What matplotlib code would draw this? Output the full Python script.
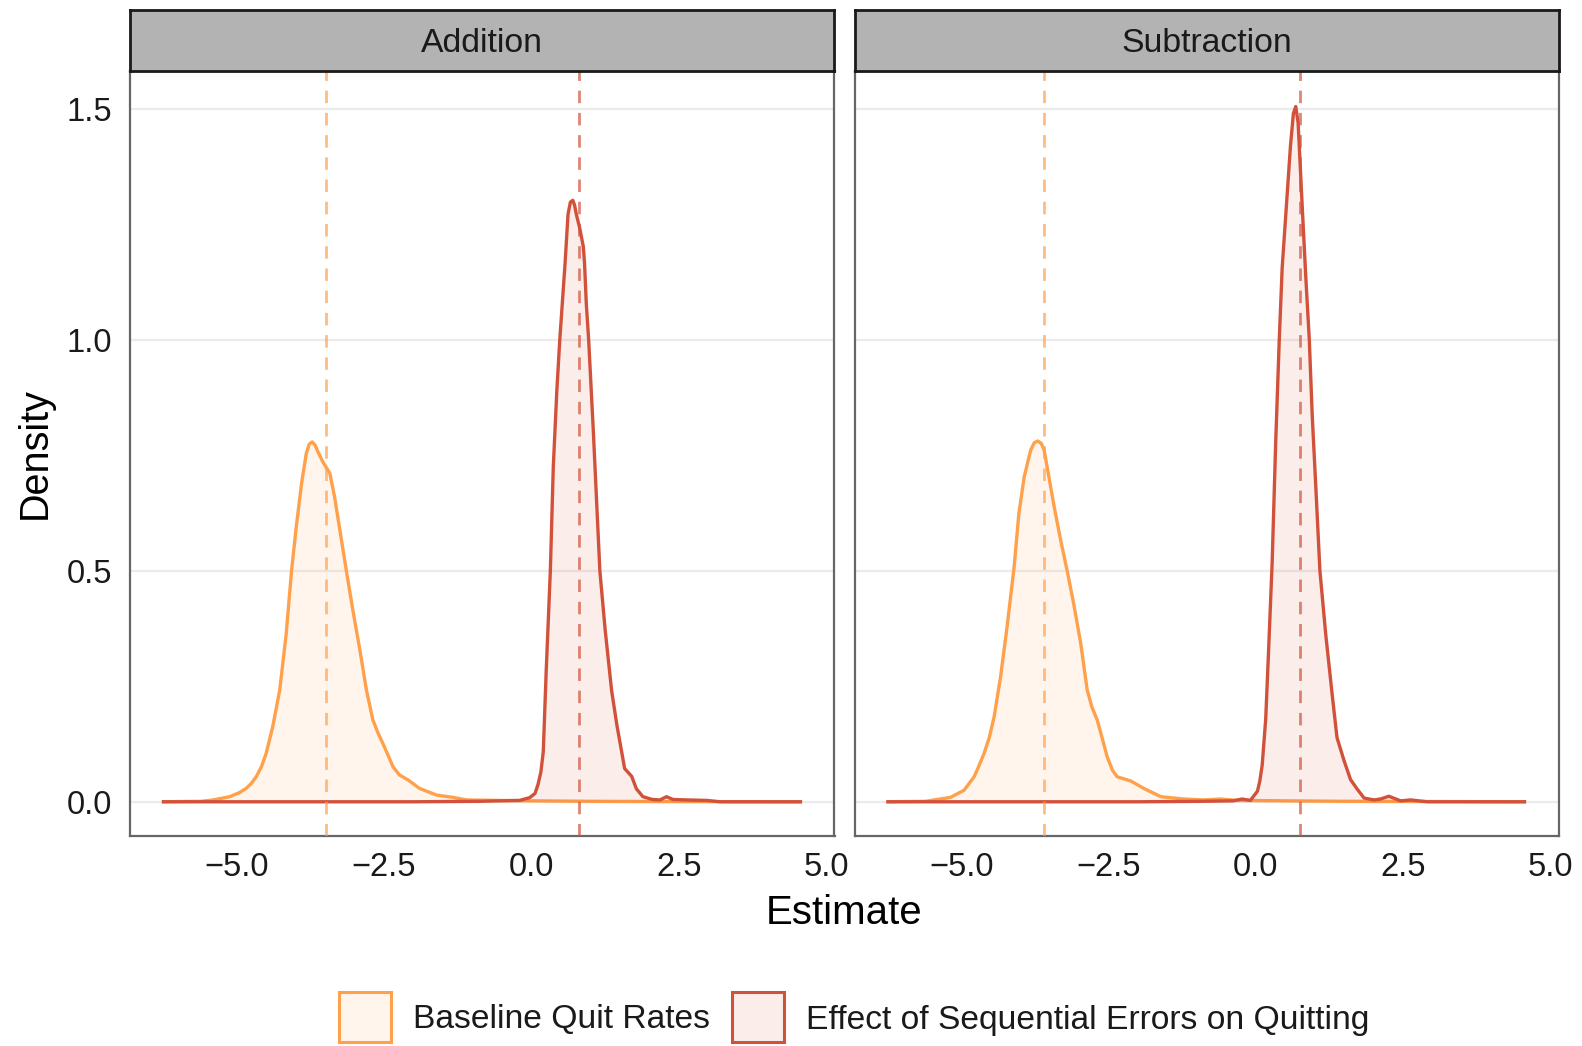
import matplotlib
matplotlib.use("Agg")
import matplotlib.pyplot as plt
from matplotlib.patches import Rectangle

# ---------------- data ----------------
facets = ["Addition", "Subtraction"]
series_labels = ["Baseline Quit Rates", "Effect of Sequential Errors on Quitting"]

add_base_x = [-6.27, -5.60, -5.40, -5.12, -4.95, -4.84, -4.75, -4.67, -4.58, -4.50, -4.39, -4.27,
              -4.16, -4.07, -3.99, -3.90, -3.82, -3.77, -3.72, -3.67, -3.62, -3.54, -3.42, -3.34,
              -3.25, -3.14, -3.03, -2.91, -2.80, -2.69, -2.60, -2.52, -2.43, -2.35, -2.24, -2.09,
              -1.90, -1.61, -1.33, -1.10, -0.59, 0.0, 1.0, 2.0, 4.59]
add_base_y = [0.0, 0.001, 0.004, 0.011, 0.020, 0.029, 0.040, 0.054, 0.076, 0.105, 0.162, 0.242,
              0.364, 0.5, 0.595, 0.689, 0.754, 0.774, 0.779, 0.772, 0.757, 0.736, 0.711, 0.660,
              0.588, 0.5, 0.415, 0.328, 0.242, 0.177, 0.148, 0.126, 0.100, 0.076, 0.058, 0.047,
              0.029, 0.0145, 0.0095, 0.004, 0.003, 0.002, 0.001, 0.0005, 0.0]

add_eff_x = [-6.27, -2.0, -0.88, -0.20, -0.03, 0.06, 0.11, 0.16, 0.20, 0.25, 0.32, 0.37, 0.43,
             0.48, 0.57, 0.62, 0.66, 0.70, 0.73, 0.76, 0.82, 0.88, 0.90, 0.93, 0.97, 1.05, 1.16,
             1.25, 1.36, 1.45, 1.53, 1.58, 1.70, 1.78, 1.89, 2.05, 2.18, 2.29, 2.40, 2.63, 2.97,
             3.2, 4.59]
add_eff_y = [0.0, 0.0, 0.001, 0.003, 0.009, 0.018, 0.037, 0.065, 0.108, 0.284, 0.5, 0.725, 0.89,
             1.0, 1.166, 1.272, 1.298, 1.302, 1.292, 1.272, 1.241, 1.201, 1.166, 1.078, 1.0, 0.80,
             0.5, 0.372, 0.24, 0.165, 0.108, 0.072, 0.055, 0.028, 0.011, 0.005, 0.004, 0.011,
             0.005, 0.004, 0.003, 0.0, 0.0]

sub_base_x = [-6.27, -5.60, -5.46, -5.18, -4.95, -4.78, -4.70, -4.61, -4.52, -4.44, -4.33, -4.22,
              -4.10, -4.02, -3.93, -3.82, -3.76, -3.70, -3.64, -3.59, -3.51, -3.42, -3.31, -3.20,
              -3.09, -2.97, -2.86, -2.78, -2.69, -2.60, -2.52, -2.43, -2.35, -2.12, -1.90, -1.61,
              -1.22, -0.88, -0.60, -0.31, 0.5, 1.5, 4.59]
sub_base_y = [0.0, 0.001, 0.004, 0.0095, 0.025, 0.054, 0.077, 0.105, 0.140, 0.184, 0.271, 0.379,
              0.509, 0.624, 0.703, 0.761, 0.777, 0.781, 0.776, 0.761, 0.703, 0.638, 0.566, 0.5,
              0.429, 0.343, 0.242, 0.205, 0.177, 0.135, 0.097, 0.068, 0.054, 0.045, 0.029, 0.011,
              0.006, 0.004, 0.006, 0.003, 0.002, 0.001, 0.0]

sub_eff_x = [-6.27, -2.0, -0.94, -0.38, -0.23, -0.09, 0.03, 0.07, 0.11, 0.17, 0.22, 0.28, 0.34,
             0.40, 0.45, 0.52, 0.59, 0.64, 0.68, 0.72, 0.79, 0.85, 0.91, 0.96, 1.02, 1.09, 1.19,
             1.30, 1.38, 1.50, 1.61, 1.72, 1.84, 2.01, 2.12, 2.26, 2.46, 2.63, 2.91, 4.59]
sub_eff_y = [0.0, 0.0, 0.001, 0.002, 0.006, 0.003, 0.023, 0.045, 0.079, 0.179, 0.331, 0.52, 0.78,
             1.0, 1.157, 1.288, 1.419, 1.49, 1.505, 1.47, 1.288, 1.137, 1.0, 0.835, 0.683, 0.5,
             0.361, 0.230, 0.139, 0.089, 0.048, 0.028, 0.008, 0.004, 0.006, 0.012, 0.002, 0.004,
             0.0, 0.0]

add_means = [-3.48, 0.80]
sub_means = [-3.59, 0.745]

x_ticks = [-5.0, -2.5, 0.0, 2.5, 5.0]
y_ticks = [0.0, 0.5, 1.0, 1.5]

colors = ["#FFA04A", "#D2513A"]

# ---------------- figure ----------------
plt.rcParams["font.family"] = ["Liberation Sans", "DejaVu Sans"]
W, H = 1582, 1046
fig = plt.figure(figsize=(W / 100, H / 100), dpi=100)

def frac_rect(x0, x1, ytop, ybot):
    return [x0 / W, 1 - ybot / H, (x1 - x0) / W, (ybot - ytop) / H]

panel_x = [(130, 834.5), (854.5, 1558.5)]
panel_top, panel_bot = 70.5, 835.5
strip_top = 10

data = [
    [(add_base_x, add_base_y), (add_eff_x, add_eff_y)],
    [(sub_base_x, sub_base_y), (sub_eff_x, sub_eff_y)],
]
means = [add_means, sub_means]

def fmt(v):
    s = f"{v:.1f}"
    return s.replace("-", "\u2212")

for i, (x0, x1) in enumerate(panel_x):
    ax = fig.add_axes(frac_rect(x0, x1, panel_top, panel_bot))
    ax.set_xlim(-6.81, 5.14)
    ax.set_ylim(-0.073, 1.583)
    for yv in y_ticks:
        ax.axhline(yv, color="#EBEBEB", lw=1.6, zorder=0)
    for j, (xs, ys) in enumerate(data[i]):
        ax.fill_between(xs, 0, ys, color=colors[j], alpha=0.1, lw=0, zorder=1 + j)
        ax.plot(xs, ys, color=colors[j], lw=2.4, zorder=2 + j, solid_capstyle="butt",
                solid_joinstyle="round")
    for j, m in enumerate(means[i]):
        ax.axvline(m, color=colors[j], alpha=0.7, lw=2.0, ls=(0, (4.5, 3.5)), zorder=5)
    ax.set_xticks(x_ticks)
    ax.set_xticklabels([fmt(v) for v in x_ticks])
    ax.set_yticks(y_ticks)
    if i == 0:
        ax.set_yticklabels([fmt(v) for v in y_ticks])
    else:
        ax.set_yticklabels([])
    ax.tick_params(length=0, labelsize=23.5, colors="#1A1A1A")
    ax.tick_params(axis="x", pad=12)
    ax.tick_params(axis="y", pad=13)
    for sp in ax.spines.values():
        sp.set_color("#666666")
        sp.set_linewidth(1.6)
    ax.grid(False)

    # strip
    sax = fig.add_axes(frac_rect(x0, x1, strip_top, panel_top))
    sax.set_facecolor("#B3B3B3")
    sax.set_xticks([])
    sax.set_yticks([])
    for sp in sax.spines.values():
        sp.set_color("#1A1A1A")
        sp.set_linewidth(2.0)
    sax.text(0.5, 0.30, facets[i], ha="center", va="baseline", fontsize=24.3,
             color="#1A1A1A", transform=sax.transAxes)

# axis titles
fig.text(844 / W, 1 - 913 / H, "Estimate", ha="center", va="center", fontsize=29, color="#000000")
fig.text(35 / W, 1 - 453 / H, "Density", ha="center", va="center", rotation=90, fontsize=28.5,
         color="#000000")

# legend (overlay axes in pixel coords)
lax = fig.add_axes([0, 0, 1, 1], facecolor="none")
lax.set_xlim(0, W)
lax.set_ylim(H, 0)
lax.axis("off")
box_x = [339, 732]
text_x = [413, 806]
for j in range(2):
    lax.add_patch(Rectangle((box_x[j], 992), 52, 50, facecolor=colors[j], alpha=0.1, lw=0))
    lax.add_patch(Rectangle((box_x[j], 992), 52, 50, facecolor="none", edgecolor=colors[j], lw=2.2))
    lax.text(text_x[j], 1020, series_labels[j], ha="left", va="center", fontsize=24.2,
             color="#1A1A1A")

fig.savefig("out.png", dpi=100)
